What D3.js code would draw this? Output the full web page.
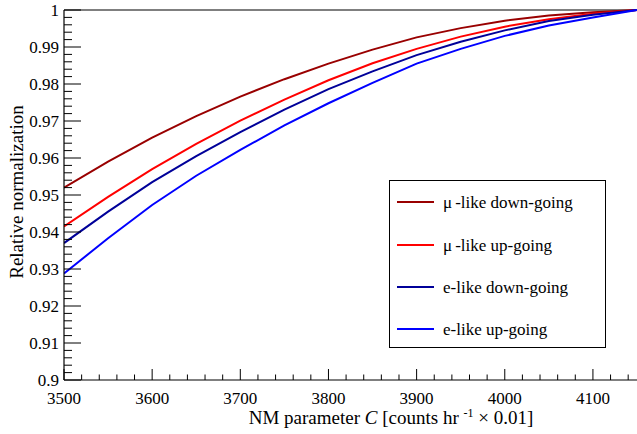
<!DOCTYPE html>
<html><head><meta charset="utf-8">
<script src="https://cdn.jsdelivr.net/npm/d3@7"></script>
<style>body{margin:0;background:#fff}</style>
</head><body><svg id="c" width="637" height="434"></svg>
<script>
const xValues = [3500,3550,3600,3650,3700,3750,3800,3850,3900,3950,4000,4050,4100,4150];
const muDown = [0.952,0.959,0.9655,0.9713,0.9766,0.9813,0.9855,0.9893,0.9926,0.9951,0.9971,0.9985,0.9994,1.0];
const muUp   = [0.9415,0.9495,0.957,0.9638,0.9701,0.9758,0.981,0.9856,0.9895,0.9928,0.9955,0.9975,0.999,1.0];
const eDown  = [0.937,0.9455,0.9535,0.9605,0.967,0.9731,0.9786,0.9834,0.9878,0.9914,0.9945,0.997,0.9987,1.0];
const eUp    = [0.9288,0.9383,0.9473,0.9552,0.9622,0.9688,0.9748,0.9803,0.9855,0.9895,0.993,0.9958,0.998,1.0];
const seriesNames = ["μ-like down-going","μ-like up-going","e-like down-going","e-like up-going"];
const seriesColors = ["#990000","#ff0000","#000099","#0000ff"];
const seriesData = [muDown,muUp,eDown,eUp];
const xTicks = [3500,3600,3700,3800,3900,4000,4100];
const yTicks = [0.9,0.91,0.92,0.93,0.94,0.95,0.96,0.97,0.98,0.99,1];

const svg = d3.select("#c");
const L=64,R=637,T=10,B=380;
const x = d3.scaleLinear().domain([3500,4150]).range([L,R]);
const y = d3.scaleLinear().domain([0.9,1]).range([B,T]);

function txt(sel,size){ return sel.append("text").attr("font-family","Liberation Serif").attr("font-size",size); }

svg.append("line").attr("x1",L).attr("x2",R).attr("y1",T).attr("y2",T).attr("stroke","#000").attr("stroke-width",1.2);
svg.append("clipPath").attr("id","clip").append("rect").attr("x",L).attr("y",T-2).attr("width",R-L).attr("height",B-T+2);

const line = d3.line().x((d,i)=>x(xValues[i])).y(d=>y(d));
seriesData.forEach((s,k)=>{
  svg.append("path").attr("d",line(s)).attr("fill","none").attr("stroke",seriesColors[k]).attr("stroke-width",2).attr("clip-path","url(#clip)");
});

const yAxis = svg.append("g");
yAxis.append("line").attr("x1",L).attr("x2",L).attr("y1",T).attr("y2",B).attr("stroke","#000").attr("stroke-width",1.2);
d3.range(0,51).forEach(i=>{
  const v = 0.9 + i*0.002;
  const major = i%5===0;
  yAxis.append("line").attr("x1",L).attr("x2",L+(major?17:8)).attr("y1",y(v)).attr("y2",y(v)).attr("stroke","#000").attr("stroke-width",1);
});
yTicks.forEach(v=>{
  txt(yAxis,17).attr("x",L-5).attr("y",y(v)+6).attr("text-anchor","end").text(d3.format("~g")(v));
});

const xAxis = svg.append("g");
xAxis.append("line").attr("x1",L).attr("x2",R).attr("y1",B).attr("y2",B).attr("stroke","#000").attr("stroke-width",1.2);
d3.range(0,33).forEach(i=>{
  const v = 3500 + i*20;
  const major = i%5===0;
  xAxis.append("line").attr("x1",x(v)).attr("x2",x(v)).attr("y1",B).attr("y2",B-(major?11:5.5)).attr("stroke","#000").attr("stroke-width",1);
});
xTicks.forEach(v=>{
  txt(xAxis,17).attr("x",x(v)).attr("y",B+24).attr("text-anchor","middle").text(v);
});

const xt = txt(svg,19).attr("x",391).attr("y",424).attr("text-anchor","middle");
xt.append("tspan").text("NM parameter ");
xt.append("tspan").attr("font-style","italic").text("C");
xt.append("tspan").text(" [counts hr ");
xt.append("tspan").attr("font-size",12).attr("dy",-7).text("-1");
xt.append("tspan").attr("dy",7).text(" × 0.01]");

txt(svg,19).attr("transform","translate(23,192) rotate(-90)").attr("text-anchor","middle").text("Relative normalization");

const lg = svg.append("g");
lg.append("rect").attr("x",389.5).attr("y",180.5).attr("width",216).attr("height",167).attr("fill","#fff").attr("stroke","#000").attr("stroke-width",1);
const legY = [202,245,287,329];
seriesNames.forEach((n,k)=>{
  lg.append("line").attr("x1",397).attr("x2",434).attr("y1",legY[k]).attr("y2",legY[k]).attr("stroke",seriesColors[k]).attr("stroke-width",2);
  const t = txt(lg,17).attr("x",443).attr("y",legY[k]+5.5);
  if(n.startsWith("μ")){
    t.append("tspan").text("μ");
    t.append("tspan").attr("dx",3).text(n.slice(1));
  } else t.text(n);
});
</script></body></html>
